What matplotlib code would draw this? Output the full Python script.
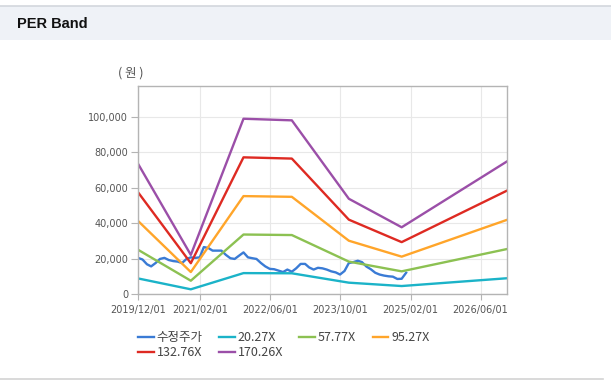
import numpy as np
import pandas as pd
import matplotlib
matplotlib.use("Agg")
import matplotlib.pyplot as plt
import matplotlib.dates as mdates
from matplotlib.patches import Rectangle
from matplotlib.lines import Line2D
from matplotlib.ticker import FuncFormatter

# data
band_dates = ["2019-12-01", "2020-12-01", "2021-12-01", "2022-11-01",
              "2023-12-01", "2024-12-01", "2026-12-01"]
band_20 = [8800, 2650, 11800, 11700, 6400, 4500, 8900]
band_57 = [25000, 7500, 33600, 33300, 18300, 12800, 25400]
band_95 = [41300, 12400, 55300, 54900, 30100, 21100, 41900]
band_132 = [57500, 17400, 77200, 76500, 42000, 29300, 58400]
band_170 = [73600, 22100, 99000, 98100, 53800, 37700, 74900]

price_start = "2019-12-01"
price = [20400, 19500, 16800, 15600, 17500, 19800, 20400, 19200, 18600, 18300,
         17500, 19800, 20700, 20400, 20700, 26500, 26000, 24500, 24500, 24500,
         22100, 20200, 19800, 21700, 23500, 20700, 20200, 19800, 17500, 15600,
         14200, 14000, 13200, 12400, 13800, 12600, 14500, 17000, 17000, 15000,
         13800, 14800, 14500, 13800, 12800, 12200, 11000, 13000, 17500, 18000,
         18800, 18000, 15500, 14000, 12000, 11000, 10400, 10000, 9800, 8500,
         8600, 12000]

labels = ["수정주가", "20.27X", "57.77X", "95.27X", "132.76X", "170.26X"]
colors = ["#3a7bd5", "#1bb3c8", "#8cc152", "#ffa52a", "#de2a22", "#9b4fa8"]

x_ticks = ["2019-12-01", "2021-02-01", "2022-06-01", "2023-10-01",
           "2025-02-01", "2026-06-01"]

fig = plt.figure(figsize=(6.11, 3.81), dpi=100)
W, H = 611, 381

# header strip
fig.patches.append(Rectangle((0, 1 - 40 / H), 1, 34 / H, transform=fig.transFigure,
                             facecolor="#eff2f7", edgecolor="none", zorder=0))
fig.add_artist(Line2D([0, 1], [1 - 5.5 / H] * 2, transform=fig.transFigure,
                      color="#d3d7dd", lw=1.2))
fig.add_artist(Line2D([0, 603 / W], [1 - 378.5 / H] * 2, transform=fig.transFigure,
                      color="#d3d3d3", lw=1.2))
fig.text(17 / W, 1 - 23.5 / H, "PER Band", fontsize=10.5, fontweight="bold",
         family=["Liberation Sans", "DejaVu Sans"], va="center", ha="left",
         color="#111111")

ax = fig.add_axes([138 / W, 1 - 294 / H, 369 / W, 208 / H])

bd = pd.to_datetime(band_dates)
pd_dates = pd.date_range(price_start, periods=len(price), freq="MS")

lines = []
lines += ax.plot(pd_dates, price, color=colors[0], lw=1.7)
for vals, c in zip([band_20, band_57, band_95, band_132, band_170], colors[1:]):
    lines += ax.plot(bd, vals, color=c, lw=1.7)

ax.set_xlim(pd.Timestamp("2019-12-01"), pd.Timestamp("2026-12-01"))
ax.set_ylim(0, 117500)
ax.set_yticks(np.arange(0, 100001, 20000))
ax.yaxis.set_major_formatter(FuncFormatter(lambda v, p: f"{int(v):,}"))
ax.set_xticks(pd.to_datetime(x_ticks))
ax.xaxis.set_major_formatter(mdates.DateFormatter("%Y/%m/%d"))

ax.grid(True, color="#e8e8e8", lw=0.8)
ax.set_axisbelow(True)
for s in ax.spines.values():
    s.set_color("#b4b4b4")
    s.set_linewidth(1.0)
ax.tick_params(axis="y", length=5, width=0.8, color="#b4b4b4", pad=2,
               labelsize=7, labelcolor="#555555")
ax.tick_params(axis="x", length=4, width=0.8, color="#b4b4b4", pad=4,
               labelsize=7, labelcolor="#555555")

fig.text(131 / W, 1 - 73 / H, "( 원 )", fontsize=9, ha="center", va="center",
         family=["Noto Sans CJK KR", "DejaVu Sans"], color="#555555")

# legend, row-wise order like the original
order = [0, 4, 1, 5, 2, 3]
leg = fig.legend([lines[i] for i in order], [labels[i] for i in order],
                 ncol=4, loc="upper left", bbox_to_anchor=(133 / W, 1 - 326 / H),
                 frameon=False, handlelength=1.25, handletextpad=0.25,
                 columnspacing=1.3, labelspacing=0.2, borderaxespad=0,
                 prop={"family": ["Noto Sans CJK KR", "DejaVu Sans"], "size": 9})
for t in leg.get_texts():
    t.set_color("#444444")

fig.savefig("out.png", dpi=100)
